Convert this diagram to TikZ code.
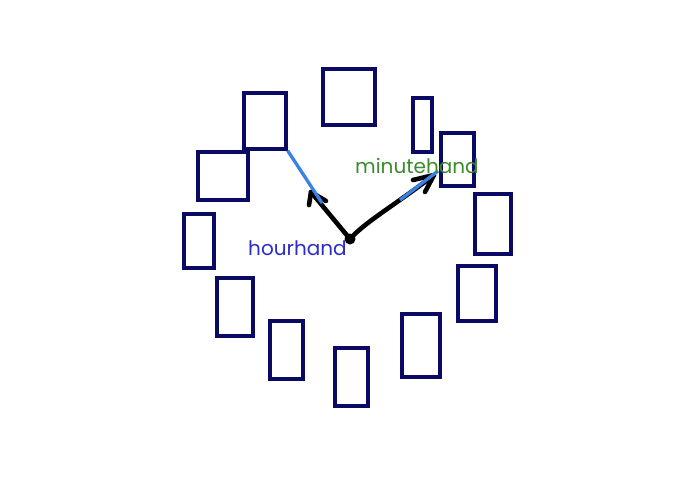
\documentclass[tikz,border=0pt]{standalone}
\usepackage{fontspec}
\setmainfont{Poppins}
\begin{document}
\begin{tikzpicture}[x=1pt,y=-1pt,
  dialbox/.style={draw=navyc,line width=3.3pt,inner sep=0pt,rectangle},
  hand/.style={draw=black,line width=4.6pt,line cap=round,line join=round},
  bluel/.style={draw=bluec,line width=3.3pt},
  lbl/.style={inner sep=0pt,anchor=base west,font=\fontsize{20}{20}\selectfont}]
\definecolor{navyc}{RGB}{10,10,100}
\definecolor{bluec}{RGB}{55,130,230}
\definecolor{hourc}{RGB}{45,45,200}
\definecolor{minc}{RGB}{60,140,45}
\useasboundingbox[fill=white] (0,0) rectangle (690,480);
% rectangles: center x,y ; width, height
\node[dialbox,minimum width=52pt,minimum height=56pt] (r1) at (349,97) {};
\node[dialbox,minimum width=42pt,minimum height=56pt] (r2) at (265,121) {};
\node[dialbox,minimum width=19pt,minimum height=54pt] (r3) at (422.5,125) {};
\node[dialbox,minimum width=33pt,minimum height=53pt] (r4) at (457.5,159.5) {};
\node[dialbox,minimum width=50pt,minimum height=48pt] (r5) at (223,176) {};
\node[dialbox,minimum width=30pt,minimum height=54pt] (r6) at (199,241) {};
\node[dialbox,minimum width=36pt,minimum height=60pt] (r7) at (493,224) {};
\node[dialbox,minimum width=36pt,minimum height=58pt] (r8) at (235,307) {};
\node[dialbox,minimum width=38pt,minimum height=55pt] (r9) at (477,293.5) {};
\node[dialbox,minimum width=33pt,minimum height=58pt] (r10) at (286.5,350) {};
\node[dialbox,minimum width=38pt,minimum height=63pt] (r11) at (421,345.5) {};
\node[dialbox,minimum width=33pt,minimum height=58pt] (r12) at (351.5,377) {};
% center
\coordinate (c) at (350,239);
\coordinate (ht) at (311,192);
\coordinate (mt) at (434,175);
\coordinate (hb) at (322,203);
\coordinate (ms) at (438,171);
\coordinate (mb) at (400,200);
% hands
\draw[hand] (c) -- (ht);
\draw[hand] (309,205) -- (ht) -- (326,201);
\draw[hand] (c) .. controls (365,222) and (395,205) .. (mt);
\draw[hand] (413,180) -- (mt) -- (425,192);
\fill (c) circle (5.5pt);
% blue segments
\draw[bluel] (r2.south east) -- (hb);
\draw[bluel] (ms) -- (mb);
% labels
\node[lbl,text=hourc] (hl) at (248,255) {hourhand};
\node[lbl,text=minc] (ml) at (355,173) {minutehand};
\end{tikzpicture}
\end{document}
